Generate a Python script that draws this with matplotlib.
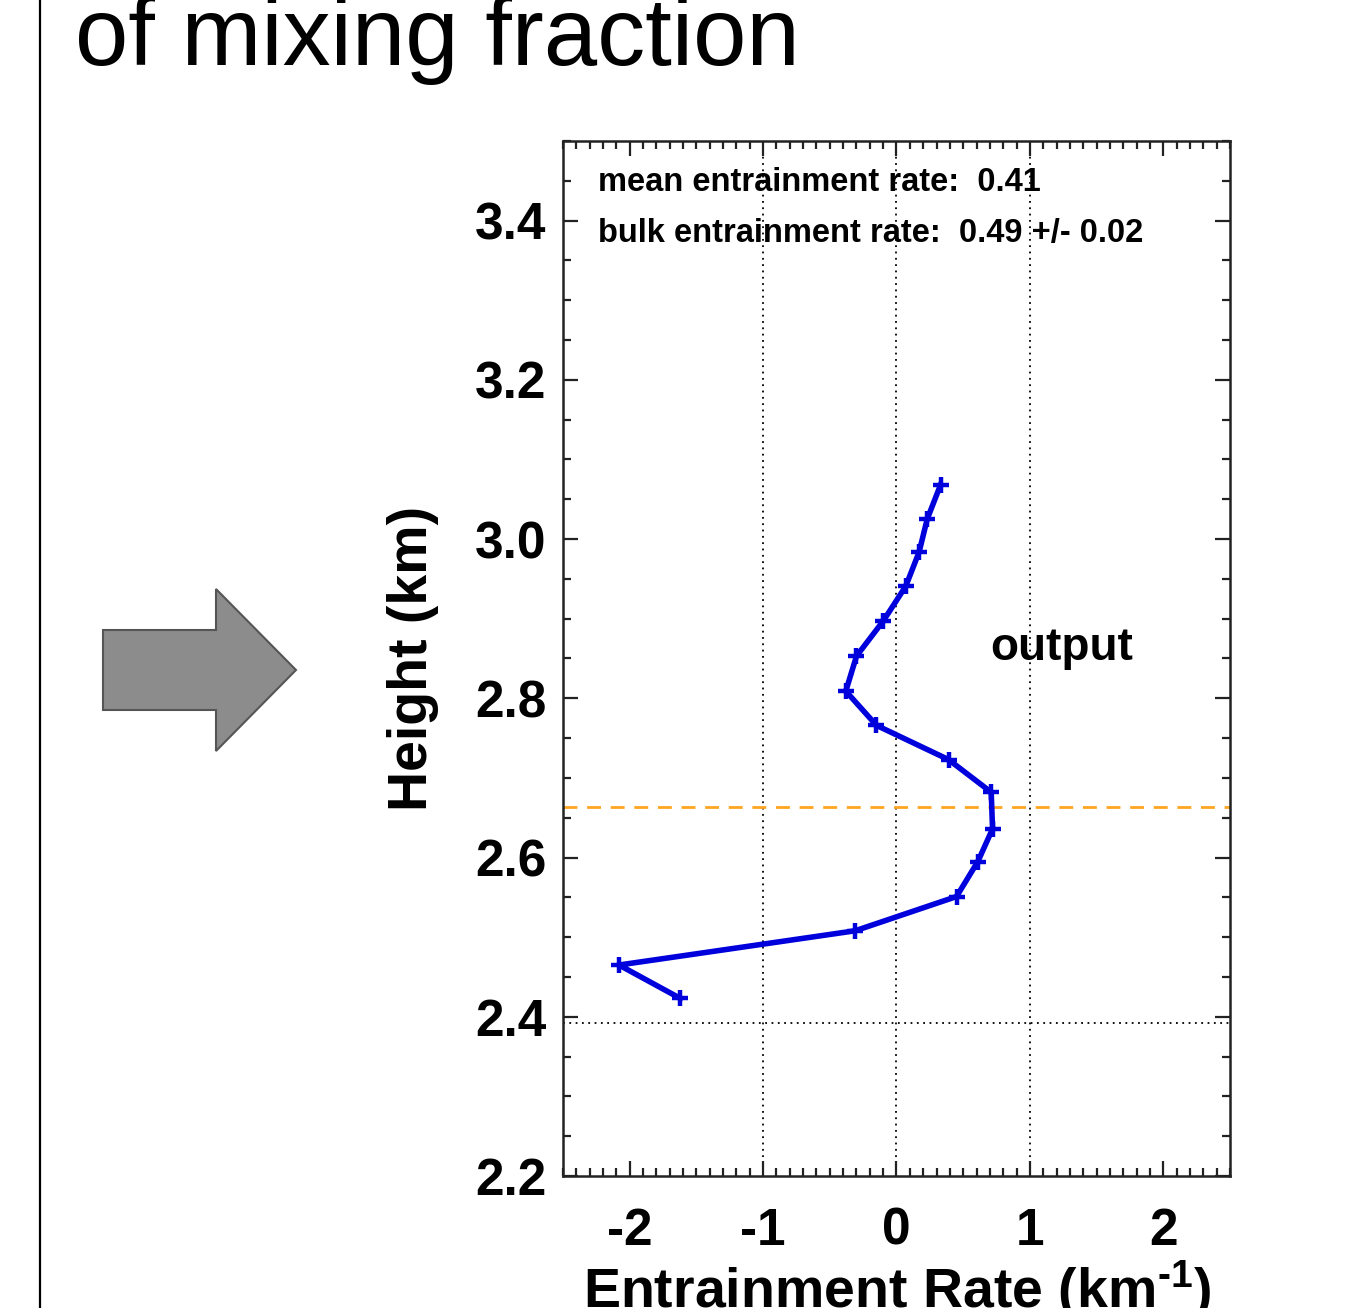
import matplotlib
matplotlib.use("Agg")
import matplotlib.pyplot as plt
from matplotlib.patches import Polygon
from matplotlib.ticker import MultipleLocator, FormatStrFormatter

plt.rcParams['font.family'] = ['Liberation Sans', 'DejaVu Sans']
plt.rcParams['mathtext.fontset'] = 'custom'
plt.rcParams['mathtext.rm'] = 'Liberation Sans:bold'
plt.rcParams['mathtext.default'] = 'regular'

# ---- data ----
heights = [2.423, 2.465, 2.508, 2.551, 2.595, 2.636, 2.682, 2.723,
           2.766, 2.809, 2.853, 2.897, 2.941, 2.984, 3.025, 3.068]
rates = [-1.62, -2.08, -0.31, 0.45, 0.61, 0.72, 0.71, 0.39,
         -0.15, -0.38, -0.30, -0.10, 0.07, 0.17, 0.23, 0.33]
orange_level = 2.663
base_level = 2.392
vgrid = [-1, 0, 1]
xticks = [-2, -1, 0, 1, 2]
yticks = [2.2, 2.4, 2.6, 2.8, 3.0, 3.2, 3.4]
mean_text = "mean entrainment rate:  0.41"
bulk_text = "bulk entrainment rate:  0.49 +/- 0.02"
title_text = "of mixing fraction"

W, H = 1362, 1308
fig = plt.figure(figsize=(W / 100, H / 100), dpi=100)

# decoration overlay in pixel coords
deco = fig.add_axes([0, 0, 1, 1])
deco.set_xlim(0, W)
deco.set_ylim(H, 0)
deco.axis('off')
deco.plot([40, 40], [0, H], color='black', lw=1.6)
arrow = Polygon([(103, 630), (216, 630), (216, 589), (296, 670),
                 (216, 751), (216, 710), (103, 710)], closed=True,
                facecolor='#8c8c8c', edgecolor='#555555', lw=1.5)
deco.add_patch(arrow)
deco.text(75, 65, title_text, fontsize=69, ha='left', va='baseline', color='black')

ax = fig.add_axes([563 / W, 1 - 1176 / H, (1230 - 563) / W, (1176 - 141) / H])
ax.set_xlim(-2.5, 2.5)
ax.set_ylim(2.2, 3.5)

for v in vgrid:
    ax.axvline(v, color='black', lw=1.3, ls=(0, (1, 2.5)), zorder=1)
ax.axhline(base_level, color='black', lw=1.3, ls=(0, (1, 2.5)), zorder=1)
ax.axhline(orange_level, color='#ffa51f', lw=2.0, ls=(0, (5, 3.5)), zorder=2)

ax.plot(rates, heights, color='#0000dd', lw=4, marker='+', ms=12, mew=3.2, zorder=3)

ax.set_xticks(xticks)
ax.xaxis.set_minor_locator(MultipleLocator(0.1))
ax.set_yticks(yticks)
ax.yaxis.set_minor_locator(MultipleLocator(0.05))
ax.yaxis.set_major_formatter(FormatStrFormatter('%.1f'))
ax.xaxis.set_major_formatter(FormatStrFormatter('%d'))

ax.tick_params(which='both', direction='in', top=True, right=True, width=1.6, color='#222222')
ax.tick_params(which='major', length=11)
ax.tick_params(which='minor', length=5.5)
ax.tick_params(axis='x', which='major', pad=22, labelsize=37)
ax.tick_params(axis='y', which='major', pad=12, labelsize=37)
for lab in ax.get_xticklabels() + ax.get_yticklabels():
    lab.set_fontweight('bold')
for s in ax.spines.values():
    s.set_linewidth(1.8)
    s.set_color('#222222')

ax.set_ylabel('Height (km)', fontsize=40, fontweight='bold', labelpad=26)
ax.set_xlabel(r'Entrainment Rate (km$^{\text{-1}}$)', fontsize=40, fontweight='bold', labelpad=2)

ax.text(0.0525, 0.960, mean_text, transform=ax.transAxes, fontsize=23.5,
        fontweight='bold', ha='left', va='center')
ax.text(0.0525, 0.911, bulk_text, transform=ax.transAxes, fontsize=23.5,
        fontweight='bold', ha='left', va='center')
ax.text(0.747, 0.510, 'output', transform=ax.transAxes, fontsize=33,
        fontweight='bold', ha='center', va='center')

fig.savefig('out.png', dpi=100)
